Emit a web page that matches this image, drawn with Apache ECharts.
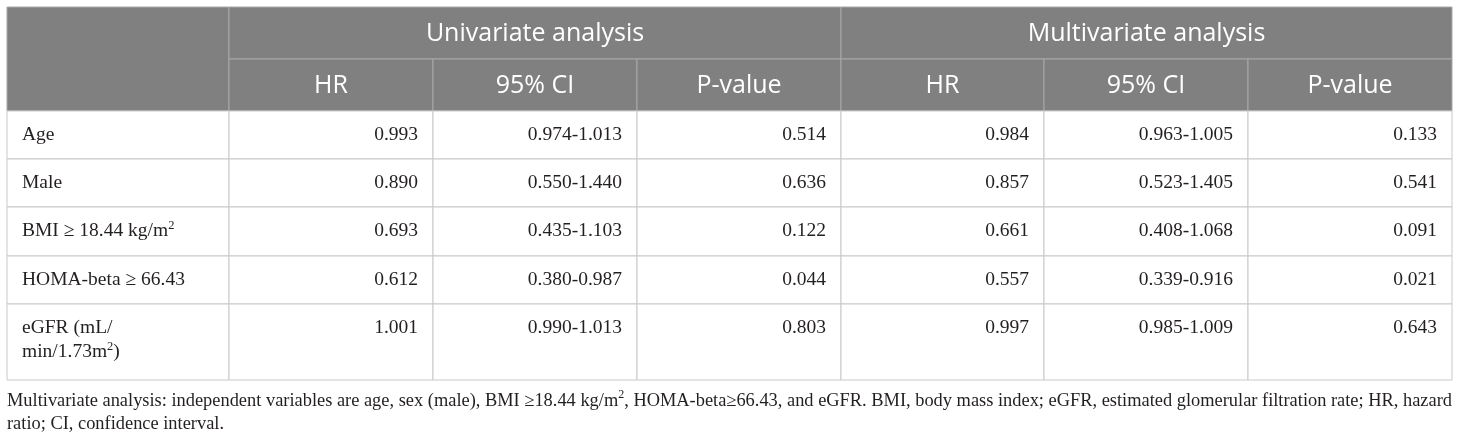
<!DOCTYPE html>
<html>
<head>
    <meta charset="UTF-8">
    <title>Cox regression table</title>
    <script src="https://cdn.jsdelivr.net/npm/echarts@6/dist/echarts.min.js"></script>
    <style>
        html, body { margin: 0; padding: 0; background: #fff; }
        #table { width: 1460px; height: 440px; }
    </style>
</head>
<body>
<div id="table"></div>
<script type="text/javascript">
    // table content
    var groups = ['Univariate analysis', 'Multivariate analysis'];
    var columns = ['HR', '95% CI', 'P-value'];
    var variables = ['Age', 'Male', 'BMI \u2265 18.44 kg/m\u00b2', 'HOMA-beta \u2265 66.43', 'eGFR (mL/\nmin/1.73m\u00b2)'];

    var uniHR = [0.993, 0.890, 0.693, 0.612, 1.001];
    var uniCI = ['0.974-1.013', '0.550-1.440', '0.435-1.103', '0.380-0.987', '0.990-1.013'];
    var uniP = [0.514, 0.636, 0.122, 0.044, 0.803];

    var multiHR = [0.984, 0.857, 0.661, 0.557, 0.997];
    var multiCI = ['0.963-1.005', '0.523-1.405', '0.408-1.068', '0.339-0.916', '0.985-1.009'];
    var multiP = [0.133, 0.541, 0.091, 0.021, 0.643];

    var footnote = 'Multivariate analysis: independent variables are age, sex (male), BMI \u226518.44 kg/m\u00b2, HOMA-beta\u226566.43, and eGFR. BMI, body mass index; eGFR, estimated glomerular filtration rate; HR, hazard\nratio; CI, confidence interval.';

    // layout (table units = px)
    var colEdges = [0, 222, 426, 630, 834, 1037, 1241, 1445];
    var rowEdges = [0, 52, 104, 152, 200, 249, 297, 373];

    var HEAD_BG = '#808080';
    var HEAD_LINE = '#a8a8a8';
    var BODY_LINE = '#c9c9c9';
    var TEXT = '#231f20';
    var SERIF = '"Liberation Serif", "DejaVu Serif", serif';
    var SANS = '"Open Sans", "Noto Sans", sans-serif';

    function sup(s) {
        return s.replace(/\u00b2/g, '{sup|2}');
    }

    var cells = [];
    // header
    cells.push({x0: colEdges[0], x1: colEdges[1], y0: rowEdges[0], y1: rowEdges[2], head: true, text: ''});
    groups.forEach(function (g, gi) {
        cells.push({x0: colEdges[1 + gi * 3], x1: colEdges[4 + gi * 3], y0: rowEdges[0], y1: rowEdges[1], head: true, text: g});
        columns.forEach(function (c, ci) {
            var k = 1 + gi * 3 + ci;
            cells.push({x0: colEdges[k], x1: colEdges[k + 1], y0: rowEdges[1], y1: rowEdges[2], head: true, text: c});
        });
    });
    // body
    variables.forEach(function (v, i) {
        var y0 = rowEdges[2 + i], y1 = rowEdges[3 + i];
        var vals = [
            uniHR[i].toFixed(3), uniCI[i], uniP[i].toFixed(3),
            multiHR[i].toFixed(3), multiCI[i], multiP[i].toFixed(3)
        ];
        cells.push({x0: colEdges[0], x1: colEdges[1], y0: y0, y1: y1, head: false, text: sup(v), align: 'left'});
        vals.forEach(function (t, k) {
            cells.push({x0: colEdges[k + 1], x1: colEdges[k + 2], y0: y0, y1: y1, head: false, text: t, align: 'right'});
        });
    });

    var chart = echarts.init(document.getElementById('table'));

    var option = {
        animation: false,
        backgroundColor: '#ffffff',
        title: {
            text: sup(footnote),
            left: 7,
            top: 389,
            padding: 0,
            textStyle: {
                fontFamily: SERIF,
                fontSize: 18.4,
                fontWeight: 'normal',
                lineHeight: 23.5,
                color: TEXT,
                rich: {
                    sup: {fontFamily: SERIF, fontSize: 12, lineHeight: 12, verticalAlign: 'top', color: TEXT}
                }
            }
        },
        grid: {left: 7, top: 7, width: 1445, height: 373},
        xAxis: {type: 'value', min: 0, max: colEdges[colEdges.length - 1], show: false},
        yAxis: {type: 'value', min: 0, max: rowEdges[rowEdges.length - 1], inverse: true, show: false},
        series: [{
            type: 'custom',
            clip: false,
            encode: {x: [0, 1], y: [2, 3]},
            data: cells.map(function (c) { return [c.x0, c.x1, c.y0, c.y1]; }),
            renderItem: function (params, api) {
                var cell = cells[params.dataIndex];
                var p0 = api.coord([api.value(0), api.value(2)]);
                var p1 = api.coord([api.value(1), api.value(3)]);
                var w = p1[0] - p0[0], h = p1[1] - p0[1];
                var children = [{
                    type: 'rect',
                    shape: {x: p0[0], y: p0[1], width: w, height: h},
                    style: {
                        fill: cell.head ? HEAD_BG : '#ffffff',
                        stroke: cell.head ? HEAD_LINE : BODY_LINE,
                        lineWidth: 1
                    }
                }];
                if (cell.text) {
                    if (cell.head) {
                        children.push({
                            type: 'text',
                            x: p0[0] + w / 2,
                            y: p0[1] + h / 2 + 1,
                            style: {
                                text: cell.text,
                                fill: '#ffffff',
                                fontFamily: SANS,
                                fontSize: 25,
                                align: 'center',
                                verticalAlign: 'middle'
                            }
                        });
                    } else {
                        children.push({
                            type: 'text',
                            x: cell.align === 'left' ? p0[0] + 15 : p1[0] - 15,
                            y: p0[1] + 12,
                            style: {
                                text: cell.text,
                                fill: TEXT,
                                fontFamily: SERIF,
                                fontSize: 19.5,
                                lineHeight: 24,
                                align: cell.align,
                                verticalAlign: 'top',
                                rich: {
                                    sup: {fontFamily: SERIF, fontSize: 12.5, lineHeight: 12, verticalAlign: 'top', fill: TEXT}
                                }
                            }
                        });
                    }
                }
                return {type: 'group', children: children};
            }
        }]
    };

    chart.setOption(option);
</script>
</body>
</html>
